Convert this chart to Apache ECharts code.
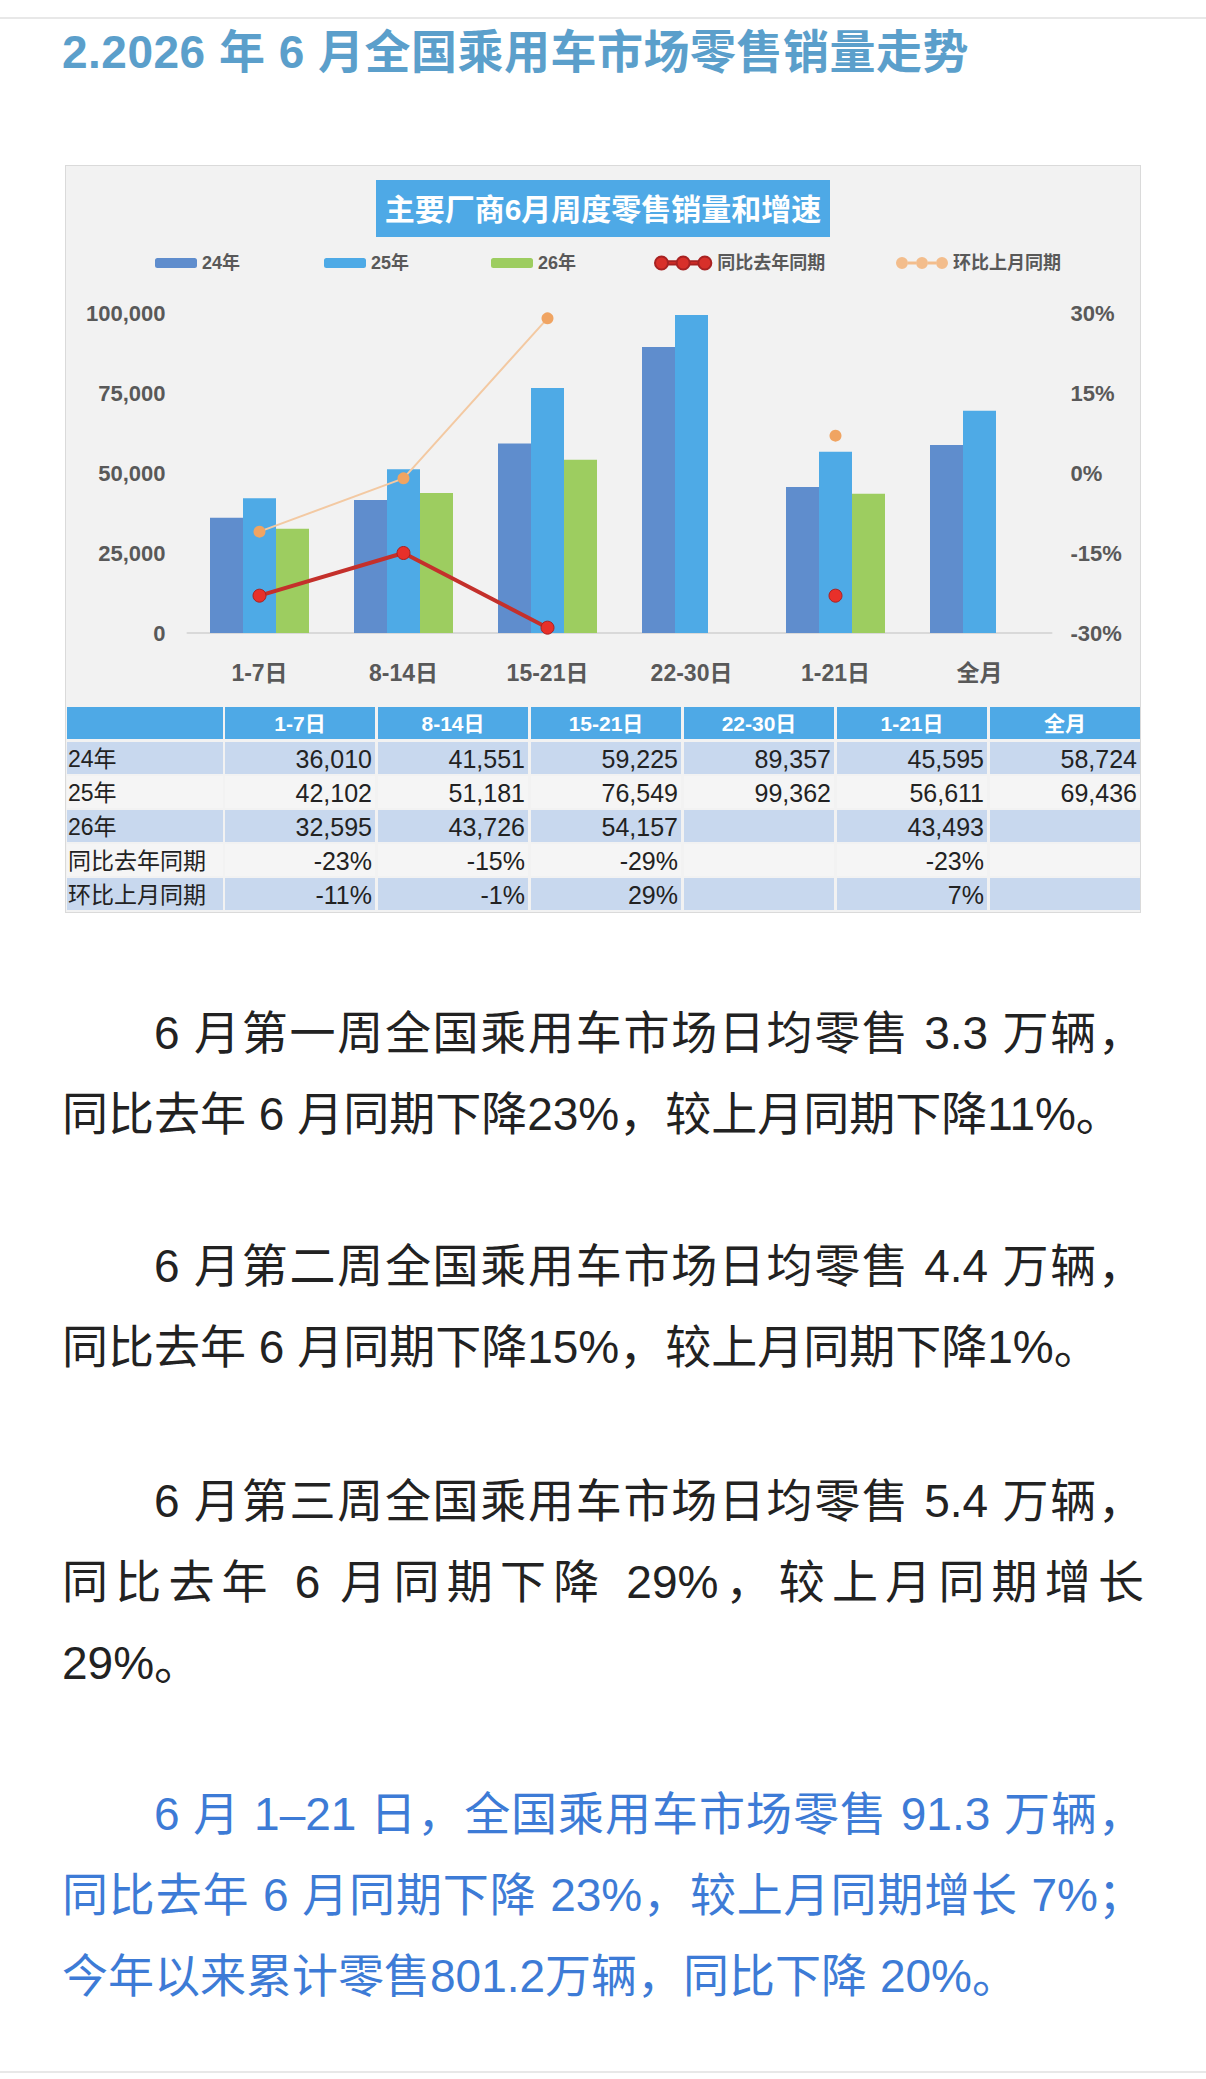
<!DOCTYPE html>
<html>
<head>
<meta charset="utf-8">
<script src="https://cdn.jsdelivr.net/npm/echarts@6/dist/echarts.min.js"></script>
<style>
    html, body { margin: 0; padding: 0; background: #fff; }
    body { width: 1206px; height: 2079px; position: relative; overflow: hidden;
        font-family: "Liberation Sans", "Noto Sans CJK SC", sans-serif; }
    .rule { position: absolute; left: 0; width: 1206px; height: 2px; background: #e8e8e8; }
    .title { position: absolute; left: 62px; top: 22px; font-size: 46px; font-weight: bold;
        color: #5b9fcb; line-height: 60px; white-space: nowrap; letter-spacing: 0.5px; }
    .panel { position: absolute; left: 66px; top: 166px; width: 1074px; height: 746px;
        background: #f2f2f2; box-shadow: 0 0 0 1px #dadada; }
    #chart_main { position: absolute; left: 66px; top: 166px; width: 1074px; height: 746px; }
    .p { position: absolute; left: 62px; width: 1082px; font-size: 46px; line-height: 81px; color: #222; }
    .p .l { white-space: nowrap; }
    .p .j { text-align: justify; text-align-last: justify; }
    .p .ind { text-indent: 92px; }
    .blue { color: #3d7bd6; }
</style>
</head>
<body>
<div class="rule" style="top:17px"></div>
<div class="title">2.2026 年 6 月全国乘用车市场零售销量走势</div>
<div class="panel"></div>
<div id="chart_main"></div>

<div class="p" style="top:993px">
    <div class="l j ind">6 月第一周全国乘用车市场日均零售 3.3 万辆，</div>
    <div class="l">同比去年 6 月同期下降23%，较上月同期下降11%。</div>
</div>
<div class="p" style="top:1226px">
    <div class="l j ind">6 月第二周全国乘用车市场日均零售 4.4 万辆，</div>
    <div class="l">同比去年 6 月同期下降15%，较上月同期下降1%。</div>
</div>
<div class="p" style="top:1461px">
    <div class="l j ind">6 月第三周全国乘用车市场日均零售 5.4 万辆，</div>
    <div class="l j">同比去年 6 月同期下降 29%，较上月同期增长</div>
    <div class="l">29%。</div>
</div>
<div class="p blue" style="top:1774px">
    <div class="l j ind">6 月 1–21 日，全国乘用车市场零售 91.3 万辆，</div>
    <div class="l j">同比去年 6 月同期下降 23%，较上月同期增长 7%；</div>
    <div class="l">今年以来累计零售801.2万辆，同比下降 20%。</div>
</div>
<div class="rule" style="top:2071px"></div>

<script>
var categories = ['1-7日', '8-14日', '15-21日', '22-30日', '1-21日', '全月'];
var sales24 = [36010, 41551, 59225, 89357, 45595, 58724];
var sales25 = [42102, 51181, 76549, 99362, 56611, 69436];
var sales26 = [32595, 43726, 54157, null, 43493, null];
var yoyPct = [-23, -15, -29, null, -23, null];
var momPct = [-11, -1, 29, null, 7, null];
var rowLabels = ['24年', '25年', '26年', '同比去年同期', '环比上月同期'];

var salesMin = 0, salesMax = 100000, salesStep = 25000;
var pctMin = -30, pctMax = 30, pctStep = 15;

var fontLatin = '"Liberation Sans", "Noto Sans CJK SC", sans-serif';
var grayText = '#595959';
var headBlue = '#4ea9e6';
// 三个圆点连线的图例图标
var dotsIcon = 'path://M0,6A6,6 0 1,0 12,6A6,6 0 1,0 0,6Z M12,4.5L20,4.5L20,7.5L12,7.5Z ' +
    'M20,6A6,6 0 1,0 32,6A6,6 0 1,0 20,6Z M32,4.5L40,4.5L40,7.5L32,7.5Z ' +
    'M40,6A6,6 0 1,0 52,6A6,6 0 1,0 40,6Z';

initChart();

function fmt(v) {
    return v === null ? '' : v.toLocaleString('en-US');
}

function buildTable() {
    var els = [];
    var headTop = 541, rowTop = 576, rowStep = 34, cellH = 32;
    var firstX = 1, firstW = 156, colX = 159, colStep = 153, colW = 150;
    var rowFill = ['#c8d8ee', '#f5f5f5', '#c8d8ee', '#f5f5f5', '#c8d8ee'];
    var rows = [sales24, sales25, sales26, yoyPct, momPct];

    els.push({ type: 'rect', shape: { x: firstX, y: headTop, width: firstW, height: cellH }, style: { fill: headBlue } });
    for (var c = 0; c < categories.length; c++) {
        var x = colX + c * colStep;
        els.push({ type: 'rect', shape: { x: x, y: headTop, width: colW, height: cellH }, style: { fill: headBlue } });
        els.push({
            type: 'text', x: x + colW / 2, y: headTop + cellH / 2,
            style: { text: categories[c], fill: '#fff', font: 'bold 21px ' + fontLatin,
                textAlign: 'center', textVerticalAlign: 'middle', align: 'center', verticalAlign: 'middle' }
        });
    }
    for (var r = 0; r < rows.length; r++) {
        var y = rowTop + r * rowStep;
        els.push({ type: 'rect', shape: { x: firstX, y: y, width: firstW, height: cellH }, style: { fill: rowFill[r] } });
        els.push({
            type: 'text', x: firstX + 1, y: y + cellH / 2 + 1,
            style: { text: rowLabels[r], fill: '#222', font: '23px ' + fontLatin,
                textAlign: 'left', textVerticalAlign: 'middle', align: 'left', verticalAlign: 'middle' }
        });
        for (var k = 0; k < categories.length; k++) {
            var cx = colX + k * colStep;
            var v = rows[r][k];
            var txt = r < 3 ? fmt(v) : (v === null ? '' : v + '%');
            els.push({ type: 'rect', shape: { x: cx, y: y, width: colW, height: cellH }, style: { fill: rowFill[r] } });
            els.push({
                type: 'text', x: cx + colW - 3, y: y + cellH / 2 + 1,
                style: { text: txt, fill: '#222', font: '25px ' + fontLatin,
                    textAlign: 'right', textVerticalAlign: 'middle', align: 'right', verticalAlign: 'middle' }
            });
        }
    }
    return els;
}

function legendAt(item, left, w, h) {
    return {
        data: [item], left: left, top: 83, itemWidth: w, itemHeight: h,
        selectedMode: false,
        textStyle: { color: grayText, fontSize: 18, fontWeight: 'bold', fontFamily: fontLatin }
    };
}

function initChart() {
    var myChart = echarts.init(document.getElementById('chart_main'), null, { renderer: 'svg' });
    var option = {
        animation: false,
        backgroundColor: 'transparent',
        legend: [
            legendAt('24年', 84, 42, 10),
            legendAt('25年', 253, 42, 10),
            legendAt('26年', 420, 42, 10),
            legendAt({ name: '同比去年同期', icon: dotsIcon, itemStyle: { color: '#d8302a' } }, 583, 58, 13),
            legendAt({ name: '环比上月同期', icon: dotsIcon, itemStyle: { color: '#f3bd8c' } }, 825, 52, 12)
        ],
        grid: { left: 121.5, top: 147, width: 864, height: 320 },
        xAxis: {
            type: 'category',
            data: categories,
            axisTick: { show: false },
            axisLine: { lineStyle: { color: '#d9d9d9', width: 2 } },
            axisLabel: { color: grayText, fontSize: 23, fontWeight: 'bold', fontFamily: fontLatin, margin: 28 }
        },
        yAxis: [{
            type: 'value',
            min: salesMin, max: salesMax, interval: salesStep,
            splitLine: { show: false },
            axisLabel: {
                color: grayText, fontSize: 22, fontWeight: 'bold', fontFamily: fontLatin, margin: 22,
                formatter: function (v) { return v.toLocaleString('en-US'); }
            }
        }, {
            type: 'value',
            min: pctMin, max: pctMax, interval: pctStep,
            splitLine: { show: false },
            axisLabel: {
                color: grayText, fontSize: 22, fontWeight: 'bold', fontFamily: fontLatin, margin: 19,
                formatter: '{value}%'
            }
        }],
        series: [{
            name: '24年', type: 'bar', data: sales24, barWidth: 33, barGap: '0%',
            itemStyle: { color: '#5f8dcd' }
        }, {
            name: '25年', type: 'bar', data: sales25, barWidth: 33, barGap: '0%',
            itemStyle: { color: '#4eaae6' }
        }, {
            name: '26年', type: 'bar', data: sales26, barWidth: 33, barGap: '0%',
            itemStyle: { color: '#9dcd60' }
        }, {
            name: '同比去年同期', type: 'line', yAxisIndex: 1, data: yoyPct,
            symbol: 'circle', symbolSize: 13, z: 5,
            lineStyle: { color: '#c4302b', width: 4 },
            itemStyle: { color: '#e8302a', borderColor: '#a82222', borderWidth: 1 }
        }, {
            name: '环比上月同期', type: 'line', yAxisIndex: 1, data: momPct,
            symbol: 'circle', symbolSize: 12, z: 4,
            lineStyle: { color: '#f3c9a2', width: 2 },
            itemStyle: { color: '#f0a462' }
        }],
        graphic: [{
            type: 'rect', shape: { x: 310, y: 14, width: 454, height: 57 },
            style: { fill: headBlue }
        }, {
            type: 'text', x: 537, y: 43,
            style: { text: '主要厂商6月周度零售销量和增速', fill: '#fff',
                font: 'bold 30px ' + fontLatin,
                textAlign: 'center', textVerticalAlign: 'middle', align: 'center', verticalAlign: 'middle' }
        }].concat(buildTable())
    };
    myChart.setOption(option);
}
</script>
</body>
</html>
